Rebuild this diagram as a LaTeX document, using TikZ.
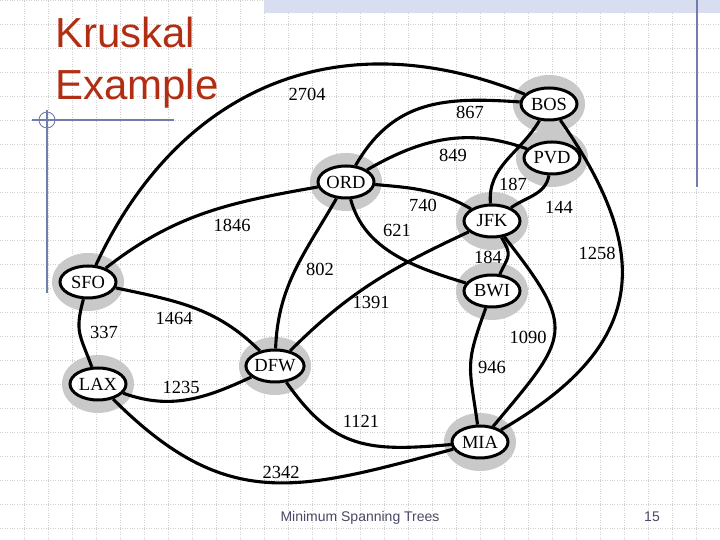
\documentclass[tikz,border=0pt]{standalone}
\usepackage{fontspec}
\setmainfont{Liberation Serif}
\newfontfamily\slidefont{Liberation Sans}
\usetikzlibrary{shapes.geometric, positioning}

\definecolor{titlered}{RGB}{178,46,18}
\definecolor{gridgray}{RGB}{208,208,208}
\definecolor{ruleblue}{RGB}{112,126,172}
\definecolor{bandblue}{RGB}{216,222,240}
\definecolor{footgray}{RGB}{72,72,100}

\begin{document}
\begin{tikzpicture}[x=1pt, y=1pt,
    city/.style={ellipse, draw=black, line width=3pt, fill=white,
      minimum width=56pt, minimum height=32pt, inner sep=0pt,
      font=\fontsize{18.5}{21}\selectfont},
    halo/.style={fill=black!21},
    road/.style={black, line width=3.1pt},
    weight/.style={inner sep=0pt, font=\fontsize{18.5}{21}\selectfont},
    gridline/.style={gridgray, line width=0.8pt, dash pattern=on 1pt off 1.4pt},
    slide/.style={ruleblue, line width=1.2pt}]
        \useasboundingbox (0,0) rectangle (720,540);
        % slide background
        \foreach \gx in {24,48,...,696}
          \draw [gridline] (\gx,0) -- (\gx,540);
        \foreach \gy in {12,36,...,540}
          \draw [gridline] (0,\gy) -- (720,\gy);
        \fill [bandblue] (264,527) rectangle (720,540);
        \draw [slide] (697,540) -- (697,353);
        \draw [slide] (32,420) -- (174,420);
        \draw [slide] (47,430) -- (47,247);
        \draw [ruleblue, line width=0.9pt] (47,420) circle (8);
        \node [anchor=base west, inner sep=0pt, text=titlered, font=\slidefont\fontsize{42}{50}\selectfont] (title1) at (55,492) {Kruskal};
        \node [anchor=base west, inner sep=0pt, text=titlered, font=\slidefont\fontsize{42}{50}\selectfont] (title2) at (55,440) {Example};
        % airports
        \foreach \name/\x/\y in {BOS/549/436, PVD/552/382, ORD/346/358, JFK/492/319,
            BWI/492/249, SFO/88/258, LAX/98/156, DFW/275/174, MIA/480/98} {
          \fill [halo] (\x,\y) ellipse (36 and 29);
          \node [city] (\name) at (\x,\y) {\name};
        }
        % flights
        \draw [road] (SFO) to[out=65, in=158, looseness=1.1] (BOS);
        \draw [road] (ORD) to[out=60, in=176, looseness=1.1] (BOS);
        \draw [road] (ORD) to[out=30, in=160] (PVD);
        \draw [road] (BOS) to[out=240, in=95] (JFK);
        \draw [road] (PVD) to[out=260, in=35] (JFK);
        \draw [road] (BOS) to[out=-55, in=30, looseness=1.35] (MIA);
        \draw [road] (JFK) to[out=-52, in=50, looseness=1.6] (MIA);
        \draw [road] (BWI) to[out=-110, in=98, looseness=1.35] (MIA);
        \draw [road] (JFK) to[out=-60, in=65, looseness=1.5] (BWI);
        \draw [road] (ORD) to[out=-5, in=150] (JFK);
        \draw [road] (ORD) to[out=-75, in=163, looseness=0.95] (BWI);
        \draw [road] (DFW) to[out=45, in=205] (JFK);
        \draw [road] (ORD) to[out=-120, in=88] (DFW);
        \draw [road] (SFO) to[out=38, in=190] (ORD);
        \draw [road] (SFO) to[out=-12, in=135] (DFW);
        \draw [road] (SFO) to[out=-105, in=110, looseness=1.3] (LAX);
        \draw [road] (LAX) to[out=-20, in=205] (DFW);
        \draw [road] (DFW) to[out=-55, in=185, looseness=1.2] (MIA);
        \draw [road] (LAX) to[out=-45, in=195, looseness=1.2] (MIA);
        % weights
        \node [weight] (w2704) at (307,446) {2704};
        \node [weight] (w867) at (470,428) {867};
        \node [weight] (w849) at (453,385) {849};
        \node [weight] (w187) at (513,356) {187};
        \node [weight] (w740) at (423,335) {740};
        \node [weight] (w144) at (559,333) {144};
        \node [weight] (w1846) at (232,315) {1846};
        \node [weight] (w621) at (397,310) {621};
        \node [weight] (w184) at (488,283) {184};
        \node [weight] (w1258) at (597,287) {1258};
        \node [weight] (w802) at (320,271) {802};
        \node [weight] (w1391) at (371,238) {1391};
        \node [weight] (w1464) at (174,222) {1464};
        \node [weight] (w337) at (104,208) {337};
        \node [weight] (w1090) at (528,203) {1090};
        \node [weight] (w946) at (492,173) {946};
        \node [weight] (w1235) at (181,153) {1235};
        \node [weight] (w1121) at (361,119) {1121};
        \node [weight] (w2342) at (281,68) {2342};
        % footer
        \node [anchor=base, inner sep=0pt, text=footgray, font=\slidefont\fontsize{14}{16}\selectfont] (footer) at (360,18) {Minimum Spanning Trees};
        \node [anchor=base, inner sep=0pt, text=footgray, font=\slidefont\fontsize{14}{16}\selectfont] (page) at (652,18) {15};
\end{tikzpicture}
\end{document}
